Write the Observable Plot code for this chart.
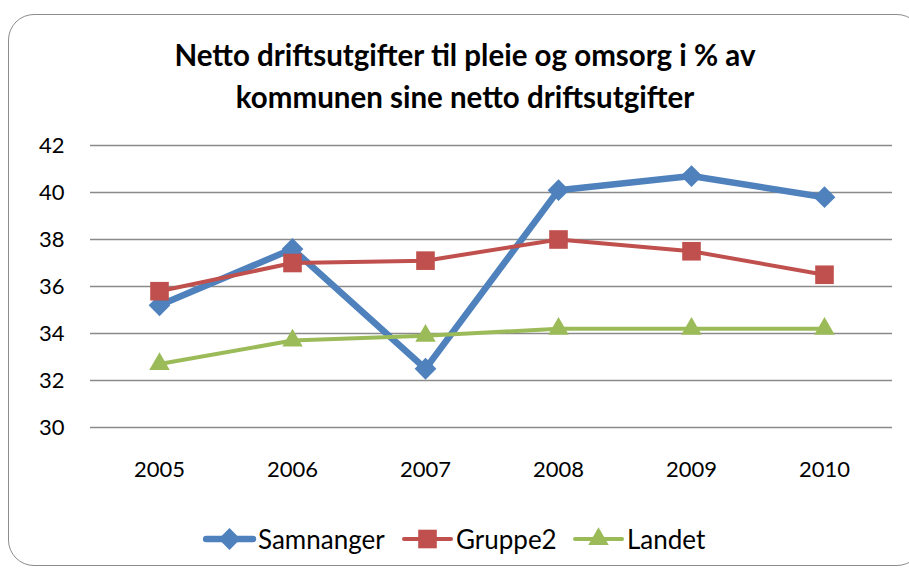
<!DOCTYPE html>
<html>
<head>
<meta charset="utf-8">
<script src="https://cdn.jsdelivr.net/npm/d3@7"></script>
<script src="https://cdn.jsdelivr.net/npm/@observablehq/plot@0.6"></script>
<style>
  html, body { margin: 0; padding: 0; background: #fff; }
  #wrap { position: relative; width: 909px; height: 569px; overflow: hidden; font-family: Lato, "Open Sans", sans-serif; }
  #frame { position: absolute; left: 8px; top: 14px; width: 915px; height: 552px; border: 1.5px solid #8c8c8c; border-radius: 26px; box-sizing: border-box; }
  #title { position: absolute; left: 0; width: 930px; top: 34px; text-align: center; font-weight: bold; font-size: 29.5px; line-height: 42px; color: #000; }
  #chart { position: absolute; left: 0; top: 120px; }
  #legend { position: absolute; left: 0; top: 524px; width: 909px; height: 30px; }
  .item { position: absolute; display: flex; align-items: center; font-size: 26px; color: #000; height: 30px; }
  .item svg { display: block; }
</style>
</head>
<body>
<div id="wrap">
  <div id="frame"></div>
  <div id="title">Netto driftsutgifter til pleie og omsorg i % av<br>kommunen sine netto driftsutgifter</div>
  <div id="chart"></div>
  <div id="legend"></div>
</div>
<script>
const years = ["2005", "2006", "2007", "2008", "2009", "2010"];
const seriesNames = ["Samnanger", "Gruppe2", "Landet"];
const samnanger = [35.2, 37.6, 32.5, 40.1, 40.7, 39.8];
const gruppe2 = [35.8, 37.0, 37.1, 38.0, 37.5, 36.5];
const landet = [32.7, 33.7, 33.9, 34.2, 34.2, 34.2];
const yTicks = [30, 32, 34, 36, 38, 40, 42];
const colors = ["#4F81BD", "#C0504D", "#9BBB59"];
const symbols = ["diamond2", "square", "triangle"];
const markerR = [9.8, 10.5, 7.6];
const lineW = [6.5, 4, 4];

const values = [samnanger, gruppe2, landet];
const data = [];
seriesNames.forEach((s, i) => years.forEach((y, j) => data.push({series: s, year: y, value: values[i][j], idx: i})));

const marks = [
  Plot.ruleY(yTicks, {stroke: "#8a8a8a", strokeWidth: 1.5}),
  Plot.axisY({ticks: yTicks, tickSize: 0, tickPadding: 26, fontSize: 22, label: null}),
  Plot.axisX({tickSize: 0, tickPadding: 34, fontSize: 22, label: null})
];
seriesNames.forEach((s, i) => {
  const d = data.filter(r => r.series === s);
  marks.push(Plot.line(d, {x: "year", y: "value", stroke: colors[i], strokeWidth: lineW[i], strokeLinejoin: "round", strokeLinecap: "round"}));
});
seriesNames.forEach((s, i) => {
  const d = data.filter(r => r.series === s);
  marks.push(Plot.dot(d, {x: "year", y: "value", symbol: () => symbols[i], r: markerR[i], fill: colors[i], stroke: "none"}));
});

const chart = Plot.plot({
  width: 909,
  height: 370,
  marginLeft: 90,
  marginRight: 17,
  marginTop: 25,
  marginBottom: 63,
  style: {fontFamily: "Lato, 'Open Sans', sans-serif", color: "#000", background: "transparent", overflow: "visible"},
  x: {type: "point", domain: years, padding: 0.5},
  y: {domain: [30, 42]},
  symbol: {type: "identity"},
  marks
});
document.getElementById("chart").appendChild(chart);

// legend
const legendLefts = [203, 401, 572];
const legend = document.getElementById("legend");
seriesNames.forEach((s, i) => {
  const item = document.createElement("div");
  item.className = "item";
  item.style.left = legendLefts[i] + "px";
  const sw = d3.create("svg").attr("width", 55).attr("height", 30);
  sw.append("line").attr("x1", 3).attr("x2", 50).attr("y1", 15).attr("y2", 15)
    .attr("stroke", colors[i]).attr("stroke-width", lineW[i]).attr("stroke-linecap", "round");
  const symType = i === 0 ? d3.symbolDiamond2 : i === 1 ? d3.symbolSquare : d3.symbolTriangle;
  sw.append("path").attr("transform", "translate(26.5,15)")
    .attr("d", d3.symbol(symType, Math.PI * markerR[i] * markerR[i])())
    .attr("fill", colors[i]);
  item.appendChild(sw.node());
  const t = document.createElement("span");
  t.textContent = s;
  item.appendChild(t);
  legend.appendChild(item);
});
</script>
</body>
</html>
